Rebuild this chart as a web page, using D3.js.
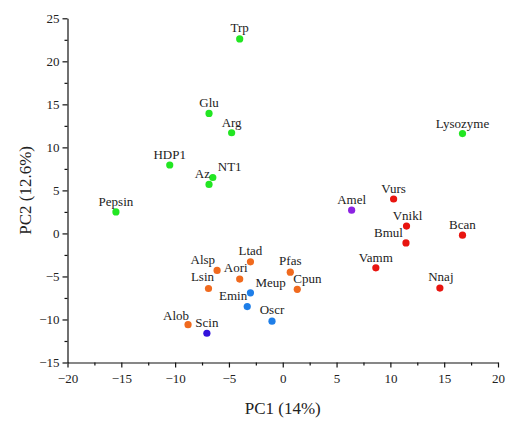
<!DOCTYPE html>
<html lang="en">
<head>
  <meta charset="UTF-8">
  <script src="https://d3js.org/d3.v7.min.js"></script>
  <title>PCA</title>
  <style>
    body { margin: 0; background: #fff; }
    text { font-family: "Liberation Serif", "DejaVu Serif", serif; fill: #222; }
  </style>
</head>
<body>
<script>
  // data
  const names = ["Trp", "Glu", "Arg", "HDP1", "NT1", "Az", "Pepsin", "Lysozyme",
                 "Vurs", "Amel", "Vnikl", "Bcan", "Bmul", "Vamm", "Nnaj",
                 "Alsp", "Ltad", "Aori", "Lsin", "Pfas", "Cpun", "Alob",
                 "Meup", "Emin", "Oscr", "Scin"]
  const pc1 = [-4.0, -6.85, -4.75, -10.5, -6.5, -6.85, -15.5, 16.7,
               10.3, 6.4, 11.5, 16.7, 11.45, 8.65, 14.6,
               -6.1, -3.0, -4.0, -6.9, 0.7, 1.35, -8.8,
               -3.0, -3.3, -1.0, -7.05]
  const pc2 = [22.6, 13.95, 11.7, 7.95, 6.5, 5.7, 2.5, 11.6,
               4.0, 2.7, 0.85, -0.2, -1.1, -4.0, -6.35,
               -4.3, -3.3, -5.3, -6.4, -4.5, -6.5, -10.6,
               -6.9, -8.5, -10.2, -11.6]
  const groups = ["ref", "ref", "ref", "ref", "ref", "ref", "ref", "ref",
                  "red", "purple", "red", "red", "red", "red", "red",
                  "orange", "orange", "orange", "orange", "orange", "orange", "orange",
                  "blue", "blue", "blue", "navy"]
  const xTicks = [-20, -15, -10, -5, 0, 5, 10, 15, 20]
  const yTicks = [-15, -10, -5, 0, 5, 10, 15, 20, 25]
  const xTitle = "PC1 (14%)"
  const yTitle = "PC2 (12.6%)"

  // styling
  const colors = { ref: "#22e622", red: "#e8140f", purple: "#8c22e2",
                   orange: "#f06a1e", blue: "#1e7ee8", navy: "#3212dc" }
  // label placement: [anchor, dx, dy]
  const labelPos = {
    Trp: ["middle", 0, -7], Glu: ["middle", 0, -6], Arg: ["middle", 0, -6],
    HDP1: ["middle", 0, -6], NT1: ["start", 5, -6], Az: ["end", 1, -6],
    Pepsin: ["middle", 0, -6], Lysozyme: ["middle", 0, -6], Vurs: ["middle", 0, -6],
    Amel: ["middle", 0, -6], Vnikl: ["middle", 1, -6], Bcan: ["middle", 0, -6],
    Bmul: ["end", -3, -6], Vamm: ["middle", 0, -6], Nnaj: ["middle", 1, -7],
    Alsp: ["end", -2, -6], Ltad: ["middle", 0, -7], Aori: ["middle", -4, -7],
    Lsin: ["middle", -6, -7], Pfas: ["middle", 0, -7], Cpun: ["start", -4, -6],
    Alob: ["end", 1, -5], Meup: ["start", 5, -6], Emin: ["end", 0, -7],
    Oscr: ["middle", 0, -7], Scin: ["middle", 0, -6]
  }

  const width = 520, height = 436

  const svg = d3.select("body").append("svg")
    .attr("width", width)
    .attr("height", height)

  const x = d3.scaleLinear().domain([-20, 20]).range([67.5, 498])
  const y = d3.scaleLinear().domain([-15, 25]).range([362.5, 18.3])

  // minor ticks every 2.5
  const xMinor = d3.range(-17.5, 20, 5)
  const yMinor = d3.range(-12.5, 25, 5)

  const gx = svg.append("g").attr("transform", `translate(0,${y(-15)})`)
  gx.call(d3.axisBottom(x).tickValues(xMinor).tickSize(3).tickFormat("").tickSizeOuter(0))
  gx.call(g => g.select(".domain").remove())
  const gx2 = svg.append("g").attr("transform", `translate(0,${y(-15)})`)
    .call(d3.axisBottom(x).tickValues(xTicks).tickSize(5).tickPadding(6).tickSizeOuter(0))

  const gy = svg.append("g").attr("transform", `translate(${x(-20)},0)`)
  gy.call(d3.axisLeft(y).tickValues(yMinor).tickSize(3).tickFormat("").tickSizeOuter(0))
  gy.call(g => g.select(".domain").remove())
  const gy2 = svg.append("g").attr("transform", `translate(${x(-20)},0)`)
    .call(d3.axisLeft(y).tickValues(yTicks).tickSize(5).tickPadding(3).tickSizeOuter(0))

  svg.selectAll(".domain, .tick line").attr("stroke", "#111").attr("stroke-width", 1.2)
  svg.selectAll(".tick text")
    .style("font-family", '"Liberation Serif", serif')
    .style("font-size", "13px")
    .attr("fill", "#222")

  // axis titles
  svg.append("text")
    .attr("x", (x(-20) + x(20)) / 2)
    .attr("y", 414)
    .attr("text-anchor", "middle")
    .style("font-size", "17px")
    .text(xTitle)

  svg.append("text")
    .attr("transform", `translate(31,${(y(-15) + y(25)) / 2}) rotate(-90)`)
    .attr("text-anchor", "middle")
    .style("font-size", "17px")
    .text(yTitle)

  // points
  const pts = names.map((n, i) => ({ name: n, px: pc1[i], py: pc2[i], grp: groups[i] }))

  svg.append("g").selectAll("circle")
    .data(pts)
    .enter()
    .append("circle")
    .attr("cx", d => x(d.px))
    .attr("cy", d => y(d.py))
    .attr("r", 3.6)
    .attr("fill", d => colors[d.grp])

  svg.append("g").selectAll("text")
    .data(pts)
    .enter()
    .append("text")
    .attr("x", d => x(d.px) + labelPos[d.name][1])
    .attr("y", d => y(d.py) + labelPos[d.name][2])
    .attr("text-anchor", d => labelPos[d.name][0])
    .style("font-size", "13px")
    .text(d => d.name)
</script>
</body>
</html>
